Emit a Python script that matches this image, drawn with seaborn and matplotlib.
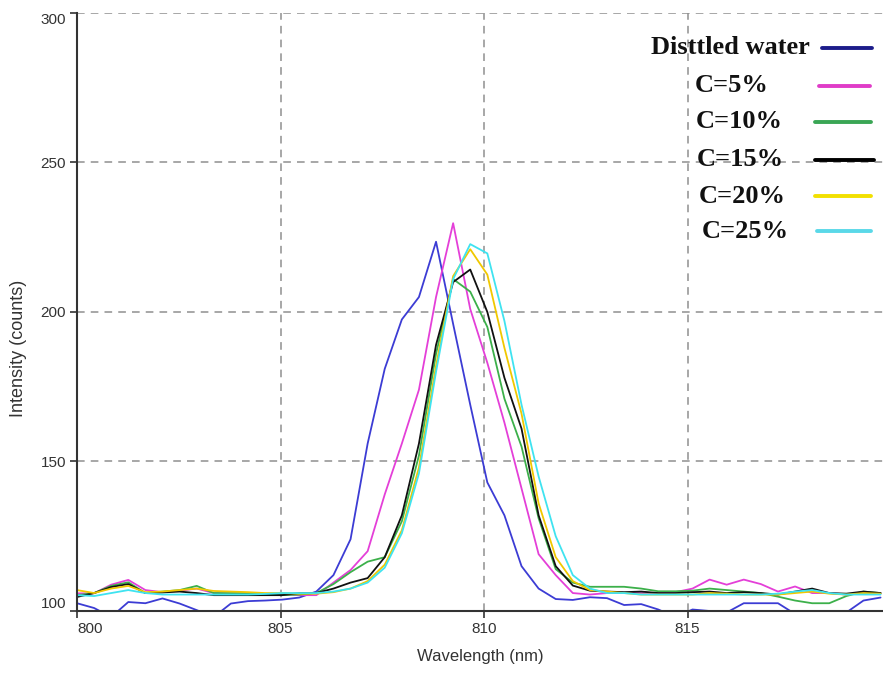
import matplotlib
matplotlib.use("Agg")
import matplotlib.pyplot as plt
from matplotlib.lines import Line2D
import seaborn as sns
import pandas as pd

# ---------------- data ----------------
wavelength = [800.00, 800.42, 800.84, 801.26, 801.68, 802.10, 802.52, 802.94,
              803.36, 803.78, 804.20, 804.62, 805.04, 805.46, 805.88, 806.30,
              806.72, 807.14, 807.56, 807.98, 808.40, 808.82, 809.24, 809.66,
              810.08, 810.50, 810.92, 811.34, 811.76, 812.18, 812.60, 813.02,
              813.44, 813.86, 814.28, 814.70, 815.12, 815.54, 815.96, 816.38,
              816.80, 817.22, 817.64, 818.06, 818.48, 818.90, 819.32, 819.74]

distilled = [102.6, 101.0, 98.0, 103.0, 102.6, 104.2, 102.5, 100.3,
             98.0, 102.5, 103.3, 103.5, 103.8, 104.5, 106.5, 112.0,
             124.0, 156.0, 181.0, 197.5, 205.0, 223.5, 196.0, 169.0,
             143.0, 132.0, 115.0, 107.5, 104.0, 103.7, 104.6, 104.3,
             102.0, 102.3, 100.5, 98.0, 100.5, 100.0, 99.5, 102.6,
             102.6, 102.6, 99.0, 98.0, 98.0, 99.5, 103.5, 104.5]

c5 = [105.9, 105.9, 108.8, 110.4, 107.0, 106.3, 106.8, 107.5,
      106.0, 105.8, 105.7, 105.6, 105.5, 105.3, 105.3, 109.5,
      113.7, 120.0, 139.0, 156.0, 174.0, 205.0, 229.7, 201.0,
      183.0, 163.0, 141.0, 119.0, 112.0, 106.0, 105.5, 106.0,
      106.0, 106.0, 106.0, 106.3, 107.5, 110.5, 108.8, 110.5,
      109.0, 106.5, 108.2, 106.0, 106.0, 105.5, 106.0, 106.0]

c10 = [105.3, 106.0, 108.4, 109.6, 106.0, 106.5, 107.0, 108.4,
       106.0, 106.0, 106.0, 105.6, 105.3, 105.5, 106.0, 109.0,
       113.0, 116.5, 118.0, 130.0, 152.0, 186.0, 211.0, 206.8,
       195.0, 171.0, 155.0, 131.0, 114.0, 109.5, 108.1, 108.1,
       108.1, 107.5, 106.6, 106.6, 106.8, 107.5, 107.0, 106.5,
       106.0, 104.8, 103.5, 102.6, 102.6, 105.0, 106.5, 106.0]

c15 = [104.7, 106.0, 108.0, 109.0, 106.0, 106.2, 106.5, 106.0,
       105.3, 105.3, 105.3, 105.3, 105.3, 106.0, 106.0, 107.5,
       109.5, 111.0, 118.0, 132.0, 156.0, 189.0, 210.0, 214.2,
       200.0, 178.0, 161.0, 132.0, 115.0, 108.5, 106.8, 106.5,
       106.3, 106.5, 106.0, 106.0, 106.3, 106.5, 106.0, 106.3,
       106.0, 105.5, 106.5, 107.5, 106.0, 105.8, 106.5, 106.0]

c20 = [107.0, 106.0, 107.5, 108.4, 106.3, 106.5, 107.0, 107.5,
       106.7, 106.5, 106.3, 106.0, 106.0, 105.8, 105.8, 106.3,
       107.5, 110.0, 115.5, 127.0, 148.0, 182.0, 212.0, 221.0,
       212.5, 188.0, 166.0, 136.0, 118.0, 110.0, 107.0, 106.5,
       106.0, 105.5, 105.5, 105.5, 105.5, 106.0, 105.8, 105.5,
       105.5, 105.5, 106.0, 106.5, 105.8, 105.5, 106.0, 105.8]

c25 = [105.3, 105.0, 106.0, 107.0, 106.0, 105.5, 105.5, 105.5,
       105.5, 105.5, 105.5, 105.7, 106.0, 106.0, 106.0, 106.5,
       107.5, 109.5, 114.5, 126.0, 146.0, 180.0, 211.0, 222.7,
       219.6, 197.0, 169.0, 145.0, 125.0, 112.0, 107.5, 106.0,
       106.0, 105.5, 105.5, 105.5, 105.5, 105.5, 105.5, 105.5,
       105.5, 105.8, 106.5, 107.0, 106.0, 105.5, 105.5, 105.5]

series_names = ["Disttled water", "C=5%", "C=10%", "C=15%", "C=20%", "C=25%"]
series_values = [distilled, c5, c10, c15, c20, c25]
line_colors = ["#3c3cd4", "#e43fd8", "#3cb04a", "#111111", "#f0c800", "#3fe3f0"]
legend_colors = ["#1c1c8a", "#e03cc8", "#3aa655", "#000000", "#f2e000", "#5ad8e8"]

x_ticks = [800, 805, 810, 815]
y_ticks = [100, 150, 200, 250, 300]

# ---------------- build table ----------------
frames = []
for name, vals in zip(series_names, series_values):
    frames.append(pd.DataFrame({"Wavelength": wavelength,
                                "Intensity": vals,
                                "Series": name}))
df = pd.concat(frames, ignore_index=True)

# ---------------- plot ----------------
sns.set_theme(style="white")
plt.rcParams["font.family"] = ["Liberation Sans", "DejaVu Sans"]

fig = plt.figure(figsize=(8.83, 6.77), dpi=100)
ax = fig.add_axes([77 / 883, 1 - 611 / 677, 806 / 883, (611 - 13) / 677])

sns.lineplot(data=df, x="Wavelength", y="Intensity", hue="Series",
             hue_order=series_names, palette=dict(zip(series_names, line_colors)),
             estimator=None, sort=False, linewidth=1.3, legend=False, ax=ax)

ax.set_xlim(800, 819.8)
ax.set_ylim(100, 300)
ax.set_xticks(x_ticks)
ax.set_yticks(y_ticks)
ax.grid(True, which="major", linestyle=(0, (5, 4)), color="#8f8f8f", linewidth=1.1)
for s in ["top", "right"]:
    ax.spines[s].set_visible(False)
for s in ["left", "bottom"]:
    ax.spines[s].set_color("#333333")
    ax.spines[s].set_linewidth(1.5)
ax.tick_params(axis="both", direction="out", length=5, width=1.2,
               colors="#333333", labelsize=11, labelcolor="#333333",
               bottom=True, left=True, pad=3)

ax.set_xlabel("Wavelength (nm)", fontsize=12, color="#333333", labelpad=9)
ax.set_ylabel("Intensity (counts)", fontsize=13, color="#333333")
ax.yaxis.set_label_coords(-0.062, 0.44)

# edge tick label alignment as in the reference
fig.canvas.draw()
xl = ax.get_xticklabels()
xl[0].set_horizontalalignment("left")
yl = ax.get_yticklabels()
yl[0].set_verticalalignment("bottom")
yl[-1].set_verticalalignment("top")

# ---------------- legend (text left, swatch right) ----------------
text_centers_x = [730, 732, 739, 740, 742, 745]
rows_y = [48, 86, 122, 160, 196, 231]
sw_x0 = [822, 819, 815, 815, 815, 817]
sw_x1 = [872, 870, 871, 874, 871, 871]
for name, col, tx, ry, a, b in zip(series_names, legend_colors, text_centers_x,
                                     rows_y, sw_x0, sw_x1):
    fig.text(tx / 883, 1 - ry / 677, name, ha="center", va="center",
             fontsize=19, fontweight="bold",
             family=["Liberation Serif", "DejaVu Serif"], color="#111111")
    fig.add_artist(Line2D([a / 883, b / 883], [1 - ry / 677, 1 - ry / 677],
                          color=col, linewidth=2.8, transform=fig.transFigure))

fig.savefig("out.png", dpi=100)
